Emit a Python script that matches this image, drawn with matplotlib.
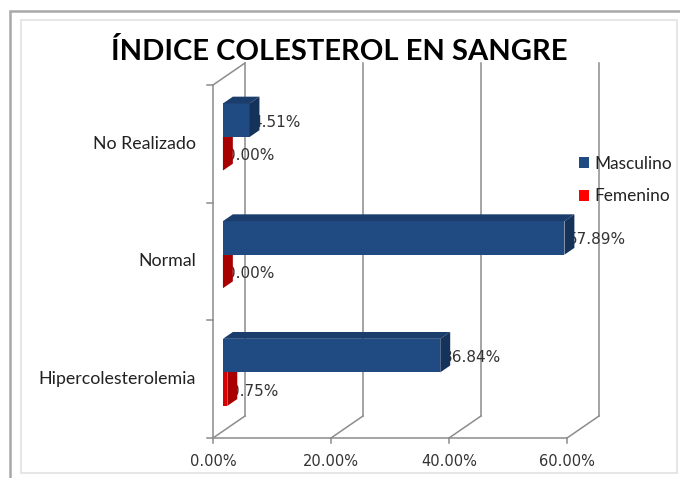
import numpy as np
import matplotlib
matplotlib.use('Agg')
from matplotlib import pyplot as plt
from matplotlib.patches import Polygon, Rectangle, Patch

categorias = ['Hipercolesterolemia', 'Normal', 'No Realizado']
masculino = [0.3684, 0.5789, 0.0451]
femenino = [0.0075, 0.0, 0.0]
ticks_x = [0.0, 0.2, 0.4, 0.6]
tick_labels = ['0.00%', '20.00%', '40.00%', '60.00%']

azul = '#1f4a82'
azul_top = '#1b3d6c'
azul_lado = '#15325a'
rojo = '#d80000'
rojo_top = '#c00000'
rojo_lado = '#a80000'
gris = '#8c8c8c'

fig = plt.figure(figsize=(6.8, 4.78), dpi=100)
fig.patch.set_facecolor('white')

# marco del grafico (estilo excel)
fig.add_artist(Rectangle((10/680, -0.01), 0.99, (478-11)/478 + 0.01, transform=fig.transFigure,
                         fill=False, edgecolor='#a8a8a8', lw=1.8))
fig.add_artist(Rectangle((21/680, (478-473)/478), (677-21)/680, (473-20)/478, transform=fig.transFigure,
                         fill=False, edgecolor='#e2e2e2', lw=1.2))

ax = fig.add_axes([213/680, (478-438)/478, (567-213)/680, (438-85)/478])
ax.set_xlim(0, 0.6)
ax.set_ylim(0, 3)
ax.axis('off')

# profundidad del efecto 3d (pixeles -> unidades de datos)
px_x = 354 / 0.6
px_y = 353 / 3
dx = 32 / px_x
dy = 22 / px_y
f = 0.31  # posicion de las barras dentro de la profundidad
bx, by = dx * f, dy * f

# paredes y rejilla
kw = dict(color=gris, lw=1.1, clip_on=False, zorder=1)
ax.plot([0, 0], [0, 3], **kw)
ax.plot([0, dx], [3, 3 + dy], **kw)
ax.plot([0, 0.6], [0, 0], **kw)
for v in ticks_x:
    ax.plot([v + dx, v + dx], [dy, 3 + dy], **kw)
    ax.plot([v, v + dx], [0, dy], **kw)
    ax.plot([v, v], [0, -5 / px_y], **kw)
for i in range(4):
    ax.plot([-6 / px_x, 0], [i, i], **kw)

for v, t in zip(ticks_x, tick_labels):
    ax.text(v, -23 / px_y, t, ha='center', va='center', fontsize=10.5,
            color='#333333', family='DejaVu Sans')
for i, c in enumerate(categorias):
    ax.text(-17 / px_x, i + 0.5, c, ha='right', va='center', fontsize=12.8,
            color='#222222', family='Lato')

h = 0.285
y = np.arange(len(categorias)) + 0.5


def barra3d(yc, v, ct, cs, z):
    b, t = yc - h / 2 + by, yc + h / 2 + by
    x0, x1 = bx, bx + v
    ax.add_patch(Polygon([(x0, t), (x1, t), (x1 + bx, t + by), (x0 + bx, t + by)],
                         closed=True, facecolor=ct, edgecolor='none', zorder=z, clip_on=False))
    ax.add_patch(Polygon([(x1, b), (x1, t), (x1 + bx, t + by), (x1 + bx, b + by)],
                         closed=True, facecolor=cs, edgecolor='none', zorder=z, clip_on=False))


bf = ax.barh(y - h / 2 + by, femenino, height=h, left=bx, color=rojo, zorder=3, clip_on=False,
             label='Femenino')
bm = ax.barh(y + h / 2 + by, masculino, height=h, left=bx, color=azul, zorder=5, clip_on=False,
             label='Masculino')
for i in range(len(categorias)):
    barra3d(y[i] - h / 2, femenino[i], rojo_top, rojo_lado, 3)
    barra3d(y[i] + h / 2, masculino[i], azul_top, azul_lado, 5)

for i in range(len(categorias)):
    ax.text(bx + masculino[i] + 3 / px_x, y[i] + h / 2 + by - 2 / px_y, '%.2f%%' % (masculino[i] * 100),
            ha='left', va='center', fontsize=11, color='#333333', zorder=2)
    ax.text(bx + femenino[i] + 3 / px_x, y[i] - h / 2 + by - 2 / px_y, '%.2f%%' % (femenino[i] * 100),
            ha='left', va='center', fontsize=11, color='#333333', zorder=2)

handles = [Patch(facecolor=azul, edgecolor='none'), Patch(facecolor='#ff0000', edgecolor='none')]
fig.legend(handles, ['Masculino', 'Femenino'], loc='center left',
           bbox_to_anchor=(563/680, (478-180)/478), frameon=False,
           prop={'family': 'Lato', 'size': 12.4}, handlelength=0.6, handleheight=0.6,
           handletextpad=0.35, labelspacing=0.95, labelcolor='#222222')

fig.text(339/680, (478-51)/478, 'ÍNDICE COLESTEROL EN SANGRE', ha='center', va='center',
         fontsize=21, fontweight='bold', family='Lato', color='black')

fig.savefig('out.png', dpi=100)
